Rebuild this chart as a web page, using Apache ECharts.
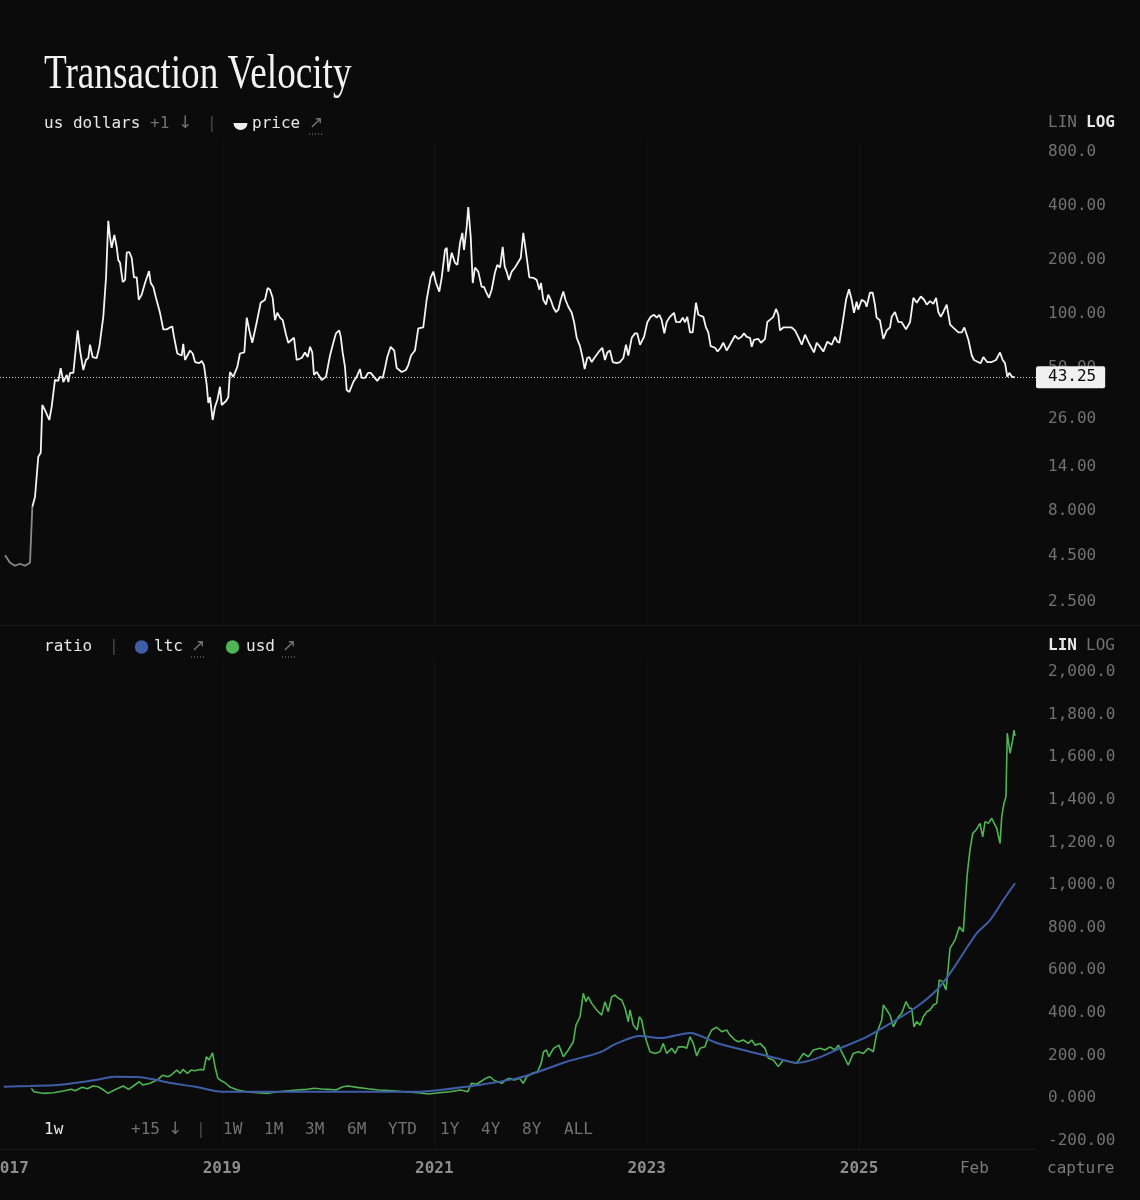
<!DOCTYPE html>
<html><head><meta charset="utf-8">
<script src="https://cdn.jsdelivr.net/npm/echarts@6/dist/echarts.min.js"></script>
<style>html,body{margin:0;padding:0;background:#0b0b0b;}#chart{width:1140px;height:1200px;}</style>
</head><body><div id="chart"></div>
<script>
// ---- price (us dollars, log) ----
const priceYears = [2016.958,2017.005,2017.052,2017.099,2017.146,2017.193,2017.203,2017.215,2017.240,2017.271,2017.294,2017.309,2017.334,2017.375,2017.397,2017.428,2017.460,2017.482,2017.507,2017.539,2017.554,2017.570,2017.601,2017.642,2017.664,2017.695,2017.720,2017.742,2017.758,2017.783,2017.821,2017.846,2017.883,2017.909,2017.930,2017.946,2017.962,2017.987,2018.009,2018.024,2018.041,2018.066,2018.088,2018.104,2018.128,2018.151,2018.172,2018.198,2018.217,2018.245,2018.276,2018.314,2018.330,2018.354,2018.379,2018.417,2018.448,2018.480,2018.511,2018.533,2018.549,2018.580,2018.621,2018.636,2018.653,2018.700,2018.725,2018.747,2018.787,2018.810,2018.831,2018.857,2018.872,2018.888,2018.913,2018.935,2018.957,2018.982,2018.998,2019.039,2019.060,2019.076,2019.107,2019.145,2019.170,2019.211,2019.234,2019.258,2019.286,2019.328,2019.365,2019.406,2019.431,2019.453,2019.478,2019.500,2019.522,2019.547,2019.573,2019.604,2019.625,2019.657,2019.679,2019.704,2019.751,2019.782,2019.808,2019.830,2019.851,2019.867,2019.893,2019.940,2019.980,2020.018,2020.049,2020.074,2020.105,2020.119,2020.137,2020.159,2020.175,2020.200,2020.237,2020.269,2020.300,2020.316,2020.347,2020.378,2020.401,2020.432,2020.463,2020.489,2020.514,2020.536,2020.557,2020.589,2020.623,2020.646,2020.693,2020.733,2020.755,2020.781,2020.818,2020.849,2020.896,2020.928,2020.966,2020.991,2021.016,2021.047,2021.070,2021.101,2021.117,2021.132,2021.164,2021.195,2021.217,2021.242,2021.264,2021.280,2021.305,2021.320,2021.343,2021.362,2021.383,2021.414,2021.446,2021.468,2021.486,2021.515,2021.540,2021.571,2021.593,2021.619,2021.644,2021.663,2021.681,2021.703,2021.729,2021.760,2021.791,2021.814,2021.838,2021.863,2021.895,2021.932,2021.964,2021.989,2022.005,2022.026,2022.052,2022.073,2022.096,2022.121,2022.146,2022.168,2022.190,2022.215,2022.235,2022.262,2022.294,2022.316,2022.341,2022.372,2022.397,2022.416,2022.440,2022.460,2022.482,2022.513,2022.544,2022.582,2022.607,2022.629,2022.654,2022.680,2022.717,2022.749,2022.780,2022.805,2022.827,2022.859,2022.890,2022.911,2022.937,2022.975,2023.006,2023.038,2023.069,2023.094,2023.119,2023.141,2023.166,2023.188,2023.219,2023.257,2023.276,2023.313,2023.339,2023.361,2023.382,2023.408,2023.433,2023.464,2023.486,2023.533,2023.558,2023.580,2023.602,2023.643,2023.668,2023.696,2023.721,2023.753,2023.784,2023.831,2023.862,2023.893,2023.916,2023.942,2023.973,2023.989,2024.010,2024.051,2024.076,2024.114,2024.136,2024.168,2024.192,2024.218,2024.239,2024.255,2024.286,2024.324,2024.365,2024.396,2024.427,2024.460,2024.491,2024.531,2024.575,2024.601,2024.632,2024.663,2024.701,2024.742,2024.773,2024.795,2024.814,2024.846,2024.877,2024.905,2024.930,2024.952,2024.977,2024.992,2025.024,2025.055,2025.071,2025.102,2025.128,2025.149,2025.165,2025.196,2025.228,2025.260,2025.291,2025.307,2025.338,2025.369,2025.401,2025.442,2025.480,2025.511,2025.543,2025.581,2025.612,2025.637,2025.668,2025.699,2025.725,2025.746,2025.769,2025.793,2025.825,2025.857,2025.894,2025.935,2025.967,2025.991,2026.029,2026.061,2026.082,2026.120,2026.145,2026.170,2026.205,2026.249,2026.289,2026.327,2026.352,2026.374,2026.396,2026.414,2026.440,2026.468];
const priceValues = [4.4,4.0,3.85,3.95,3.85,4.0,4.05,8.2,9.3,15.6,16.4,30.3,28.4,25.0,29.6,41.8,41.3,48.7,40.7,44.6,40.7,45.8,45.8,79,61,47.5,54,55.4,65.7,56.1,55.4,64,94,156,322,262,228,269,231,195,188,147,151,214,216,200,156,156,117,125,145,169,145,138,120,99,80,80,82,83,72.7,58.7,57.2,66.5,54,61,58.7,52.6,51.9,53.3,50.6,39.2,31.1,33.5,25.0,29.6,32.3,38.3,30.3,31.9,33.5,46.3,43.5,49.4,58.7,59.5,93,79,67.4,87.7,112.6,117,136,133,120,90,99,93,90,74.7,67.4,70,71.8,54,55.4,59.5,56.1,64,59.5,44.6,46.3,41.8,43.5,57.2,67.4,76,79,72.7,59.5,49.4,36.7,35.8,40.7,43.5,48.1,42.9,42.9,45.8,45.8,43.5,41.3,43.5,42.9,48.7,56.1,64,61,48.7,46.3,47.5,50.6,57.2,61,81,82,117,156,168,145,130,156,222,228,168,214,188,183,242,276,222,298,385,262,145,177,168,138,138,130,120,133,166,183,177,231,179,168,151,168,177,190,200,276,216,156,155,151,133,145,117,110,125,117,106,100,103,117,130,117,107,99,88,71.8,64.5,55.4,48.1,55.4,56.1,52.6,56.1,59.5,63.2,54,59.5,61,52.6,51.9,52.6,55.4,65.7,57.2,71.8,76,76,65.7,72.7,87.7,94,96.5,93,96.5,90,76,88,94,99,88,87.7,93,87.7,94,77,77,112.6,96.5,94,82,77,64.5,63.2,60.2,63.2,67.4,61,65.7,73.7,70.8,72.7,76,72.7,71.8,64,70,70.8,67.4,70.8,88,91.2,94,104,96.5,79,82,82,82,79,72.7,65.7,74.7,66.5,59.5,67.4,64,60.2,68.3,65.7,72.7,68.3,67.4,87.7,117,134,117,99,114,103,117,114,107,128,128,110,93,90,70.8,79,82,94,100,88,87.7,80,88,120,112.6,122,117,110,115,111,120,100,94,100,110,85,81,77,77,82,70,57.2,54,52.6,51.9,56.1,52.6,52.6,54,59.5,54,51.9,43.5,45.8,43.5,43.25];
// index where the early (dim) segment of the price line ends
const priceDimEnd = 7;

// ---- ratio pane: usd ----
const usdYears = [2017.206,2017.230,2017.315,2017.415,2017.516,2017.583,2017.617,2017.684,2017.734,2017.785,2017.835,2017.886,2017.929,2017.987,2018.071,2018.121,2018.222,2018.256,2018.323,2018.390,2018.441,2018.492,2018.524,2018.575,2018.609,2018.633,2018.676,2018.710,2018.743,2018.794,2018.828,2018.854,2018.878,2018.912,2018.935,2018.962,2018.995,2019.029,2019.080,2019.147,2019.231,2019.331,2019.433,2019.534,2019.601,2019.702,2019.802,2019.870,2019.937,2020.005,2020.072,2020.139,2020.189,2020.272,2020.375,2020.476,2020.610,2020.711,2020.846,2020.946,2021.047,2021.148,2021.249,2021.316,2021.349,2021.400,2021.434,2021.484,2021.525,2021.568,2021.602,2021.636,2021.670,2021.703,2021.753,2021.803,2021.837,2021.871,2021.921,2021.972,2022.006,2022.029,2022.056,2022.079,2022.123,2022.173,2022.215,2022.262,2022.309,2022.334,2022.372,2022.403,2022.428,2022.450,2022.482,2022.529,2022.576,2022.607,2022.638,2022.670,2022.702,2022.733,2022.765,2022.796,2022.827,2022.843,2022.874,2022.911,2022.930,2022.953,2022.977,2023.000,2023.031,2023.078,2023.125,2023.156,2023.188,2023.235,2023.267,2023.298,2023.345,2023.377,2023.408,2023.439,2023.471,2023.502,2023.549,2023.580,2023.612,2023.659,2023.706,2023.753,2023.784,2023.831,2023.863,2023.910,2023.957,2023.989,2024.020,2024.067,2024.114,2024.145,2024.192,2024.239,2024.286,2024.349,2024.412,2024.475,2024.522,2024.569,2024.632,2024.679,2024.726,2024.773,2024.804,2024.851,2024.898,2024.945,2024.993,2025.040,2025.087,2025.134,2025.166,2025.213,2025.228,2025.260,2025.291,2025.322,2025.369,2025.401,2025.442,2025.473,2025.495,2025.517,2025.542,2025.574,2025.605,2025.637,2025.668,2025.699,2025.731,2025.755,2025.787,2025.818,2025.840,2025.856,2025.903,2025.944,2025.981,2025.997,2026.019,2026.044,2026.070,2026.101,2026.138,2026.164,2026.186,2026.217,2026.249,2026.280,2026.296,2026.327,2026.343,2026.364,2026.383,2026.395,2026.421,2026.446,2026.458,2026.468];
const usdValues = [36,20.2,12.7,15.5,24.9,31.5,24.9,40.8,34.3,47,43.7,28.2,12.7,28.2,47,31.5,67.1,51.6,59.6,75.1,97.2,90.6,98.6,122,106.6,125,106.6,122,118.8,125,122,184.5,169,203,137.6,83,71.8,62.4,40.8,28.2,20.2,15.5,12.7,20.2,23.5,28.2,31.5,36.2,32.9,31.5,28.2,43.7,47,40.8,34.3,28.2,24.9,20.2,15.5,9.4,15.5,20.2,28.2,20.2,59.6,56.3,67.1,83,90.6,71.8,67.1,59.6,75.1,83,75.1,83,59.6,90.6,106.6,114,153.5,208,216,184.5,224,239,184.5,216,255,333,372,482,443,466,435,404,380,443,396,466,474,459,451,412,349,404,333,310,372,357,294,255,208,200,208,247,200,224,200,231,231,224,278,247,188,224,231,278,310,323,302,310,286,263,255,263,247,263,239,247,224,177,169,138,169,161,153.5,200,184.5,216,224,216,231,216,239,192,145.5,200,208,200,224,208,294,357,427,404,380,325,372,388,443,412,412,325,349,333,372,396,404,427,435,545,537,498,607,693,732,795,771,889,1046,1155,1233,1249,1280,1217,1288,1280,1304,1272,1257,1186,1311,1374,1405,1703,1609,1671,1718,1690.4];

// ---- ratio pane: ltc ----
const ltcYears = [2016.946,2017.199,2017.451,2017.631,2017.812,2017.992,2018.208,2018.351,2018.532,2018.749,2019.001,2019.253,2019.792,2020.514,2020.875,2021.054,2021.415,2021.775,2022.027,2022.244,2022.560,2022.718,2022.937,2023.125,2023.408,2023.659,2023.973,2024.224,2024.412,2024.601,2024.820,2025.072,2025.322,2025.542,2025.731,2025.856,2025.981,2026.107,2026.233,2026.358,2026.468];
const ltcValues = [43.7,47,51.6,62.4,75,90.6,89.2,78.4,59.6,43.7,20.2,20.2,20.2,20.2,20.2,28.2,51.6,83,122,161,205,247,282,272,296,249,208,177,156,177,224,278,349,419,498,576,670,764,826,920,998.76];

// ---- ticks ----
const priceTickValues = [800,400,200,100,50,26,14,8,4.5,2.5];
const priceTickLabels = ['800.0','400.00','200.00','100.00','50.00','26.00','14.00','8.000','4.500','2.500'];
const ratioTickValues = [2000,1800,1600,1400,1200,1000,800,600,400,200,0,-200];
const ratioTickLabels = ['2,000.0','1,800.0','1,600.0','1,400.0','1,200.0','1,000.0','800.00','600.00','400.00','200.00','0.000','-200.00'];
const xTickValues = [2017,2019,2021,2023,2025,2026.085];
const xTickLabels = ['2017','2019','2021','2023','2025','Feb'];
const xGridValues = [2019,2021,2023,2025];

const MONO = '"DejaVu Sans Mono", "Liberation Mono", monospace';
const ARROWF = '17px "DejaVu Sans", sans-serif';
const BG = '#0b0b0b';
const GREEN = '#4fb453';
const BLUE = '#3f5ea8';

function lookup(vals, labs, v) {
  let best = 0, bd = Infinity;
  vals.forEach((x, i) => { const d = Math.abs(x - v) / Math.max(1, Math.abs(x)); if (d < bd) { bd = d; best = i; } });
  return labs[best];
}
const lastP = priceValues[priceValues.length - 1];
const lastU = usdValues[usdValues.length - 1];
const lastL = ltcValues[ltcValues.length - 1];

const X_MIN = 2016.9105, X_MAX = 2026.6657;

function txt(x, y, s, fill, font) {
  return { type: 'text', x: x, y: y, silent: true,
    style: { text: s, fill: fill, font: font || ('16px ' + MONO), align: 'left', verticalAlign: 'middle', textAlign: 'left', textVerticalAlign: 'middle' } };
}
function dots(x1, x2, y) {
  return { type: 'line', silent: true, shape: { x1: x1, y1: y, x2: x2, y2: y }, style: { stroke: '#8a8a8a', lineWidth: 1, lineDash: [1, 2] } };
}
const W = '#e8e8e8', G = '#727272', S = '#4a4a4a';
const toolbar = [['1W',223],['1M',264],['3M',305],['6M',347],['YTD',388],['1Y',440],['4Y',481],['8Y',522],['ALL',564]];

const graphics = [
  { type: 'rect', silent: true, shape: { x: 0, y: 625, width: 1140, height: 1 }, style: { fill: '#1b1b1b' } },
  { type: 'text', x: 44, y: 75, scaleX: 0.775, silent: true,
    style: { text: 'Transaction Velocity', fill: '#f2f2f2', font: '48px "Liberation Serif", serif', align: 'left', verticalAlign: 'middle', textAlign: 'left', textVerticalAlign: 'middle' } },
  txt(44, 124, 'us dollars', W),
  txt(150, 124, '+1', G),
  txt(178, 124, '↓', G, ARROWF),
  txt(207, 124, '|', S),
  { type: 'sector', silent: true, shape: { cx: 240.5, cy: 123, r0: 0, r: 7, startAngle: 0, endAngle: Math.PI, clockwise: true }, style: { fill: '#eeeeee' } },
  txt(252, 124, 'price', W),
  txt(309, 124, '↗', G, ARROWF),
  dots(309, 323, 134),
  txt(1048, 123, 'LIN', G),
  txt(1086, 123, 'LOG', W, 'bold 16px ' + MONO),
  txt(44, 647, 'ratio', W),
  txt(109, 647, '|', S),
  { type: 'circle', silent: true, shape: { cx: 141.5, cy: 647, r: 6.7 }, style: { fill: BLUE } },
  txt(154, 647, 'ltc', W),
  txt(191, 647, '↗', G, ARROWF),
  dots(191, 205, 657),
  { type: 'circle', silent: true, shape: { cx: 232.5, cy: 647, r: 6.7 }, style: { fill: GREEN } },
  txt(246, 647, 'usd', W),
  txt(282, 647, '↗', G, ARROWF),
  dots(282, 296, 657),
  txt(1048, 646, 'LIN', W, 'bold 16px ' + MONO),
  txt(1086, 646, 'LOG', G),
  txt(44, 1130, '1w', W),
  txt(131, 1130, '+15', G),
  txt(168, 1130, '↓', G, ARROWF),
  txt(196, 1130, '|', S),
  txt(1047, 1169, 'capture', '#7a7a7a')
].concat(toolbar.map(t => txt(t[1], 1130, t[0], G)));

const yRich = { v: { fontFamily: MONO, fontSize: 16, color: '#727272', padding: [4, 0, 0, 0] } };
const yLabelBase = { margin: 12, align: 'left', fontFamily: MONO, fontSize: 16, color: '#727272', rich: yRich };

const chart = echarts.init(document.getElementById('chart'), null, { renderer: 'canvas' });
chart.setOption({
  backgroundColor: BG,
  animation: false,
  grid: [
    { left: 0, top: 140, width: 1036, height: 484, containLabel: false, outerBoundsMode: 'none' },
    { left: 0, top: 659.3, width: 1036, height: 490, containLabel: false, outerBoundsMode: 'none' }
  ],
  xAxis: [
    { type: 'value', gridIndex: 0, min: X_MIN, max: X_MAX,
      axisLine: { show: false }, axisTick: { show: false, customValues: xGridValues }, axisLabel: { show: false },
      splitLine: { show: true, lineStyle: { color: '#131313', width: 1 } } },
    { type: 'value', gridIndex: 1, min: X_MIN, max: X_MAX,
      axisLine: { show: true, onZero: false, lineStyle: { color: '#1a1a1a' } },
      axisTick: { show: false, customValues: xGridValues },
      splitLine: { show: true, lineStyle: { color: '#131313', width: 1 } },
      axisLabel: { show: true, customValues: xTickValues, margin: 12, fontFamily: MONO, fontSize: 16, color: '#8a8a8a',
        formatter: v => { const s = lookup(xTickValues, xTickLabels, v); return /^\d{4}$/.test(s) ? '{y|' + s + '}' : '{m|' + s + '}'; },
        rich: { y: { fontFamily: MONO, fontSize: 16, fontWeight: 'bold', color: '#8d8d8d' }, m: { fontFamily: MONO, fontSize: 16, color: '#7a7a7a' } } } }
  ],
  yAxis: [
    { type: 'log', gridIndex: 0, position: 'right', min: 1.823, max: 909.4, logBase: 10,
      axisLine: { show: false }, axisTick: { show: false, customValues: priceTickValues }, splitLine: { show: false },
      axisLabel: Object.assign({ customValues: priceTickValues, formatter: v => '{v|' + lookup(priceTickValues, priceTickLabels, v) + '}' }, yLabelBase) },
    { type: 'value', gridIndex: 1, position: 'right', min: -250, max: 2050,
      axisLine: { show: false }, axisTick: { show: false, customValues: ratioTickValues }, splitLine: { show: false },
      axisLabel: Object.assign({ customValues: ratioTickValues, formatter: v => '{v|' + lookup(ratioTickValues, ratioTickLabels, v) + '}' }, yLabelBase) }
  ],
  series: [
    { name: 'price (early)', type: 'line', xAxisIndex: 0, yAxisIndex: 0, symbol: 'none', showSymbol: false,
      data: priceYears.slice(0, priceDimEnd + 1).map((t, i) => [t, priceValues[i]]),
      lineStyle: { width: 1.8, color: '#8a8a8a' }, itemStyle: { color: '#8a8a8a' }, z: 3 },
    { name: 'price', type: 'line', xAxisIndex: 0, yAxisIndex: 0, symbol: 'none', showSymbol: false,
      data: priceYears.slice(priceDimEnd).map((t, i) => [t, priceValues[i + priceDimEnd]]),
      lineStyle: { width: 1.8, color: '#f4f4f4' }, itemStyle: { color: '#f4f4f4' }, z: 3,
      markLine: { silent: true, symbol: ['none', 'none'], animation: false,
        lineStyle: { color: '#cfcfcf', type: [1, 2], width: 1 },
        label: { show: true, position: 'end', distance: 0, formatter: () => lastP.toFixed(2),
          backgroundColor: '#f0f0f0', color: '#0b0b0b', padding: [4, 9, 2, 12], fontFamily: MONO, fontSize: 16, borderRadius: 2 },
        data: [{ yAxis: lastP }] } },
    { name: 'usd', type: 'line', xAxisIndex: 1, yAxisIndex: 1, symbol: 'none', showSymbol: false,
      data: usdYears.map((t, i) => [t, usdValues[i]]),
      lineStyle: { width: 1.6, color: GREEN }, itemStyle: { color: GREEN }, z: 2,
      markLine: { silent: true, symbol: ['none', 'none'], animation: false,
        lineStyle: { opacity: 0 },
        label: { show: true, position: 'end', distance: 0,
          formatter: () => lastU.toLocaleString('en-US', { minimumFractionDigits: 1, maximumFractionDigits: 1 }),
          backgroundColor: GREEN, color: '#ffffff', padding: [4, 9, 2, 12], fontFamily: MONO, fontSize: 16, borderRadius: 2 },
        data: [{ yAxis: lastU }] } },
    { name: 'ltc', type: 'line', xAxisIndex: 1, yAxisIndex: 1, symbol: 'none', showSymbol: false, smooth: 0.3,
      data: ltcYears.map((t, i) => [t, ltcValues[i]]),
      lineStyle: { width: 2, color: BLUE }, itemStyle: { color: BLUE }, z: 3,
      markLine: { silent: true, symbol: ['none', 'none'], animation: false,
        lineStyle: { opacity: 0 },
        label: { show: true, position: 'end', distance: 0, formatter: () => lastL.toFixed(2),
          backgroundColor: BLUE, color: '#ffffff', padding: [4, 9, 2, 12], fontFamily: MONO, fontSize: 16, borderRadius: 2 },
        data: [{ yAxis: lastL }] } }
  ],
  graphic: { elements: graphics }
});
</script></body></html>
